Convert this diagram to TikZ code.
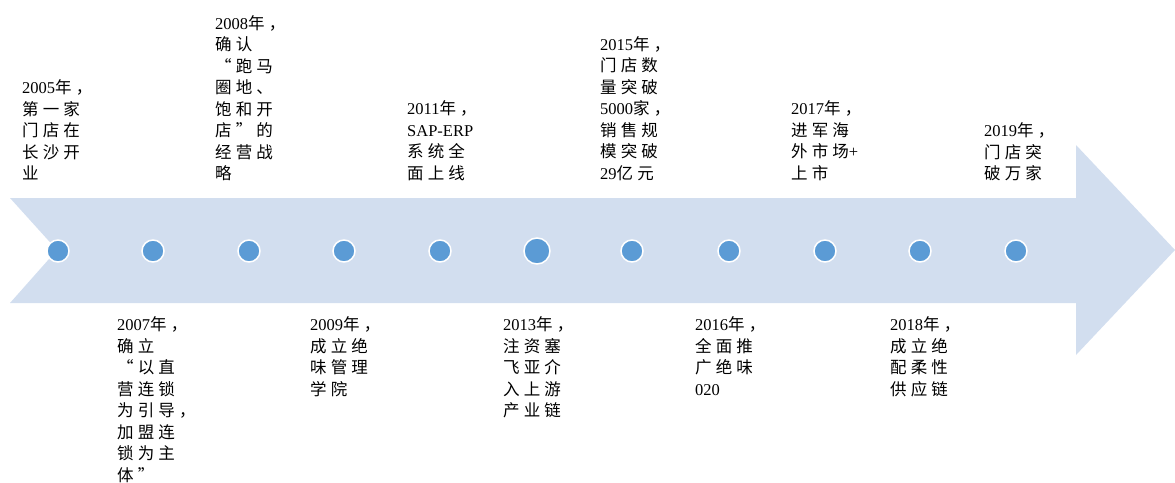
\documentclass[tikz,border=0pt]{standalone}
\usepackage{fontspec}
\setmainfont{Liberation Serif}
\newfontfamily\cjk{Noto Sans CJK SC}[LetterSpace=25]
\definecolor{arrowfill}{RGB}{210,222,239}
\definecolor{dotfill}{RGB}{91,155,213}
\newcommand\lt[1]{{\rmfamily #1}}
\begin{document}
\begin{tikzpicture}[x=1pt,y=-1pt,
  lbl/.style={anchor=north west,inner sep=0pt,align=left,
    font=\fontsize{16.5}{21.5}\selectfont\cjk},
  dot/.style={circle,fill=dotfill,draw=white,line width=1.5pt,minimum size=22pt,inner sep=0pt},
  bigdot/.style={dot,minimum size=26pt}]
\useasboundingbox (0,0) rectangle (1175,482);
% arrow
\fill[arrowfill] (10,198) -- (1076,198) -- (1076,145) -- (1175,250) -- (1076,355)
  -- (1076,303) -- (10,303) -- (57,250) -- cycle;
% dots
\node[dot] (d1) at (58,251) {};
\node[dot] (d2) at (153,251) {};
\node[dot] (d3) at (249,251) {};
\node[dot] (d4) at (344,251) {};
\node[dot] (d5) at (440,251) {};
\node[bigdot] (d6) at (537,251) {};
\node[dot] (d7) at (632,251) {};
\node[dot] (d8) at (729,251) {};
\node[dot] (d9) at (825,251) {};
\node[dot] (d10) at (920,251) {};
\node[dot] (d11) at (1016,251) {};
% top labels (last line centre at y=174)
\node[lbl] (t2005) at (22,79.5) {\lt{2005}年，\\第一家\\门店在\\长沙开\\业};
\node[lbl] (t2008) at (215,15) {\lt{2008}年，\\确认\\“跑马\\圈地、\\饱和开\\店”的\\经营战\\略};
\node[lbl] (t2011) at (407,100.5) {\lt{2011}年，\\\lt{SAP-ERP}\\系统全\\面上线};
\node[lbl] (t2015) at (600,36) {\lt{2015}年，\\门店数\\量突破\\\lt{5000}家，\\销售规\\模突破\\\lt{29}亿元};
\node[lbl] (t2017) at (791,100.5) {\lt{2017}年，\\进军海\\外市场\lt{+}\\上市};
\node[lbl] (t2019) at (984,122.5) {\lt{2019}年，\\门店突\\破万家};
% bottom labels (first line centre at y=325)
\node[lbl] (b2007) at (117,316.5) {\lt{2007}年，\\确立\\“以直\\营连锁\\为引导，\\加盟连\\锁为主\\体”};
\node[lbl] (b2009) at (310,316.5) {\lt{2009}年，\\成立绝\\味管理\\学院};
\node[lbl] (b2013) at (503,316.5) {\lt{2013}年，\\注资塞\\飞亚介\\入上游\\产业链};
\node[lbl] (b2016) at (695,316.5) {\lt{2016}年，\\全面推\\广绝味\\\lt{020}};
\node[lbl] (b2018) at (890,316.5) {\lt{2018}年，\\成立绝\\配柔性\\供应链};
\end{tikzpicture}
\end{document}
